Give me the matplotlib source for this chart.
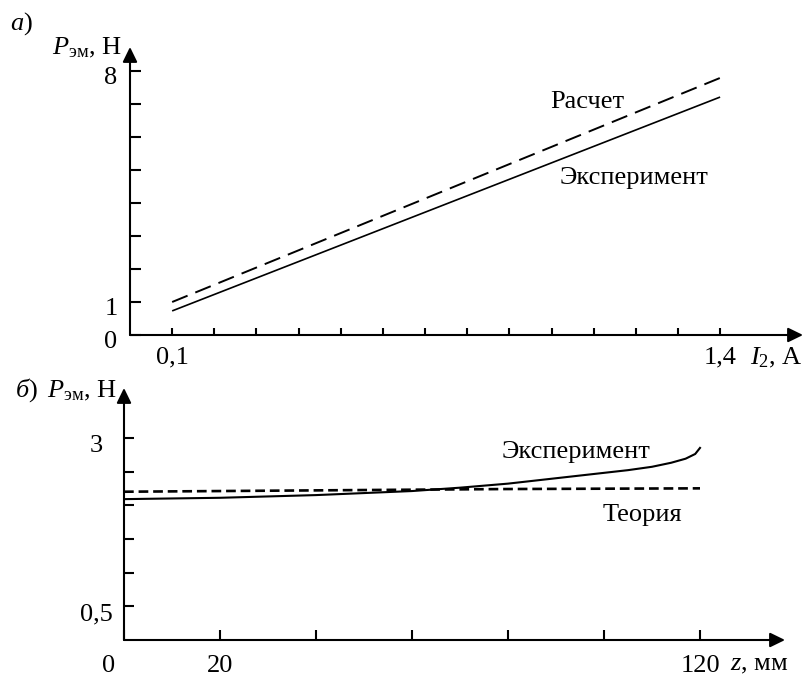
import matplotlib
matplotlib.use("Agg")
import matplotlib.pyplot as plt
from matplotlib.transforms import ScaledTranslation

plt.rcParams['font.family'] = ['Liberation Serif', 'DejaVu Serif']
plt.rcParams['mathtext.fontset'] = 'custom'
plt.rcParams['mathtext.rm'] = 'Liberation Serif'
plt.rcParams['mathtext.it'] = 'Liberation Serif:italic'
plt.rcParams['lines.scale_dashes'] = False

# ---- data: panel a ----
current_a = [0.1, 1.4]
force_exp_a = [0.73, 7.21]
force_calc_a = [1.0, 7.79]
xticks_a = [0.1, 0.2, 0.3, 0.4, 0.5, 0.6, 0.7, 0.8, 0.9, 1.0, 1.1, 1.2, 1.3, 1.4]
xticklabels_a = ['0,1'] + [''] * 12 + ['1,4']
yticks_a = [0, 1, 2, 3, 4, 5, 6, 7, 8]
yticklabels_a = ['0', '1', '', '', '', '', '', '', '8']

# ---- data: panel b ----
z_exp = [0, 10, 20, 30, 40, 50, 60, 70, 80, 90, 100, 105, 110, 114, 117, 119, 120]
force_exp_b = [2.09, 2.10, 2.11, 2.13, 2.15, 2.18, 2.21, 2.26, 2.32, 2.40, 2.48, 2.52, 2.57, 2.63, 2.69, 2.76, 2.85]
z_theory = [0, 40, 80, 120]
force_theory_b = [2.20, 2.22, 2.24, 2.25]
xticks_b = [0, 20, 40, 60, 80, 100, 120]
xticklabels_b = ['0', '20', '', '', '', '', '120']
yticks_b = [0.5, 1.0, 1.5, 2.0, 2.5, 3.0]
yticklabels_b = ['0,5', '', '', '', '', '3']

W, H = 805, 678
FS = 19
fig = plt.figure(figsize=(W / 100, H / 100), dpi=100)


def px_axes(left, top, right, bottom):
    return fig.add_axes([left / W, 1 - bottom / H, (right - left) / W, (bottom - top) / H])


def arrow_axes(ax):
    for s in ax.spines.values():
        s.set_visible(False)
    kw = dict(arrowstyle='-|>,head_length=0.45,head_width=0.22', lw=1.5, color='black',
              shrinkA=0, shrinkB=0, mutation_scale=20)
    ax.annotate('', xy=(1, 0), xytext=(0, 0), xycoords='axes fraction',
                textcoords='axes fraction', arrowprops=kw, annotation_clip=False)
    ax.annotate('', xy=(0, 1), xytext=(0, 0), xycoords='axes fraction',
                textcoords='axes fraction', arrowprops=kw, annotation_clip=False)


# ---------------- panel a ----------------
ax1 = px_axes(130, 47, 803, 335)
ax1.set_xlim(0, (803 - 130) / 421.5)
ax1.set_ylim(0, (335 - 47) / 33.0)
arrow_axes(ax1)
ax1.plot(current_a, force_exp_a, color='black', lw=1.2, solid_capstyle='butt')
ax1.plot(current_a, force_calc_a, color='black', lw=1.4, dashes=(12, 6))
ax1.set_xticks(xticks_a)
ax1.set_xticklabels(xticklabels_a, fontsize=FS)
ax1.set_yticks(yticks_a)
ax1.set_yticklabels(yticklabels_a, fontsize=FS)
ax1.tick_params(axis='x', direction='in', length=5, width=1.5, pad=8)
ax1.tick_params(axis='y', direction='in', length=8, width=1.5, pad=9)
for lab in ax1.get_yticklabels():
    lab.set_transform(lab.get_transform() + ScaledTranslation(0, -3 / 72, fig.dpi_scale_trans))
ax1.text(0.996, 7.06, 'Расчет', fontsize=FS, va='center', ha='left')
ax1.text(1.02, 4.76, 'Эксперимент', fontsize=FS, va='center', ha='left')
ax1.text(1.471, -0.7, r'$I_2$, А', fontsize=FS, va='center', ha='left')

fig.text(10 / W, 1 - 24 / H, r'$a$)', fontsize=FS, va='center', ha='left')
fig.text(52 / W, 1 - 48 / H, r'$P_{\mathrm{эм}}$, Н', fontsize=FS, va='center', ha='left')

# ---------------- panel b ----------------
ax2 = px_axes(124, 388, 785, 640)
ax2.set_xlim(0, (785 - 124) / 4.8)
ax2.set_ylim(0, (640 - 388) / 67.4)
arrow_axes(ax2)
ax2.plot(z_exp, force_exp_b, color='black', lw=1.5)
ax2.plot(z_theory, force_theory_b, color='black', lw=1.9, dashes=(7, 3.5))
ax2.set_xticks(xticks_b)
ax2.set_xticklabels(xticklabels_b, fontsize=FS)
ax2.set_yticks(yticks_b)
ax2.set_yticklabels(yticklabels_b, fontsize=FS, ha='center')
ax2.tick_params(axis='x', direction='in', length=7, width=1.5, pad=11)
ax2.tick_params(axis='y', direction='in', length=7, width=1.5, pad=20)
for lab in ax2.get_yticklabels():
    lab.set_transform(lab.get_transform() + ScaledTranslation(0, -4 / 72, fig.dpi_scale_trans))
lab0 = ax2.get_xticklabels()[0]
lab0.set_transform(lab0.get_transform() + ScaledTranslation(-11 / 72, 0, fig.dpi_scale_trans))
ax2.text(78.75, 2.79, 'Эксперимент', fontsize=FS, va='center', ha='left')
ax2.text(99.8, 1.855, 'Теория', fontsize=FS, va='center', ha='left')
ax2.text(126.3, -0.37, r'$z$, мм', fontsize=FS, va='center', ha='left')

fig.text(15 / W, 1 - 390 / H, r'$б$)', fontsize=FS, va='center', ha='left')
fig.text(47 / W, 1 - 391 / H, r'$P_{\mathrm{эм}}$, Н', fontsize=FS, va='center', ha='left')

fig.savefig('out.png', dpi=100)
